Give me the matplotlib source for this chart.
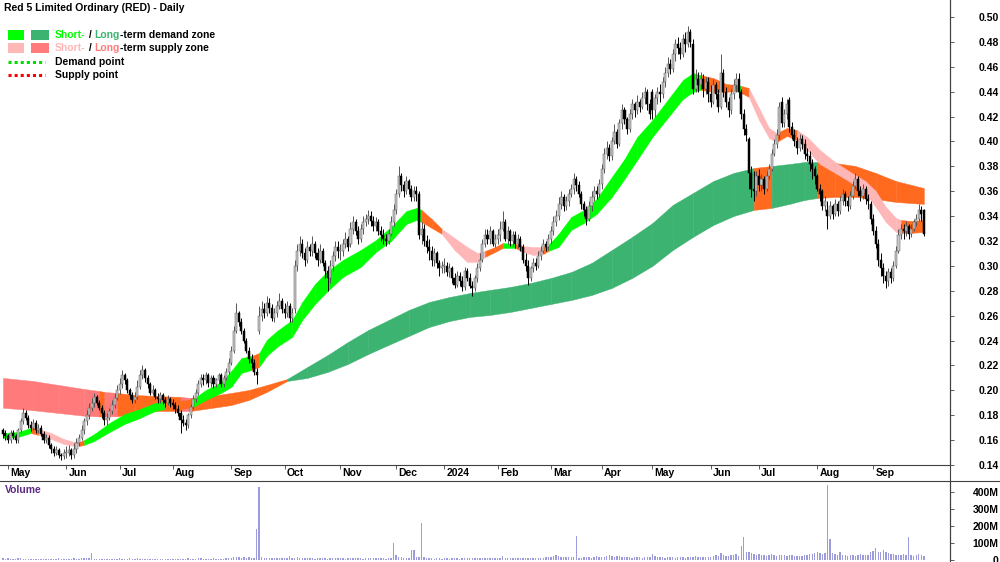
import numpy as np
import pandas as pd
import matplotlib
matplotlib.use("Agg")
import matplotlib.pyplot as plt
from matplotlib.lines import Line2D
from matplotlib.patches import Rectangle
from matplotlib.transforms import blended_transform_factory

plt.rcParams['font.family'] = ['Liberation Sans', 'DejaVu Sans']

# ---------------- data (prices in thousandths of a dollar) ----------------
asx_holidays = ['2023-06-12', '2023-12-25', '2023-12-26', '2024-01-01', '2024-01-26',
                '2024-03-29', '2024-04-01', '2024-04-25', '2024-06-10']
first_day, last_day = '2023-04-27', '2024-09-30'

closes = [165, 163,
    160,166,163,160,168,175,182,178,172,170,174,168,170,165,160,162,156,153,150,152,148,147,150,
    150,152,148,153,158,162,168,175,180,186,190,195,190,186,182,176,178,183,188,194,200,
    205,212,208,200,196,192,195,203,212,216,210,205,198,200,195,193,196,192,190,193,190,
    188,185,182,176,174,172,180,187,193,198,205,210,208,212,206,210,205,208,212,205,210,215,222,
    232,248,262,255,248,240,232,225,222,215,212,260,265,262,270,266,258,262,268,272,265,
    262,268,258,262,300,312,318,310,305,315,312,318,310,305,312,302,296,290,300,308,315,312,
    312,318,322,315,330,335,328,322,330,335,338,340,336,332,335,328,325,322,320,326,335,345,
    358,372,365,360,368,362,355,360,358,325,330,320,315,312,305,310,302,298,300,
    300,295,298,290,285,292,288,283,296,290,284,282,290,298,305,318,325,322,328,318,322,
    325,330,335,322,328,320,325,318,322,315,305,300,290,298,302,300,308,312,318,315,322,
    328,335,340,350,355,348,352,358,362,370,365,358,350,345,338,348,355,360,358,366,
    378,390,395,388,400,408,398,415,425,418,410,422,430,425,432,428,435,440,430,422,
    425,435,440,438,448,455,462,458,470,478,475,470,482,478,488,480,442,450,445,450,442,448,438,
    432,445,438,428,455,440,432,425,438,445,450,440,422,410,405,375,362,360,372,
    365,370,362,372,378,390,398,405,428,415,422,430,412,405,400,395,402,398,390,388,382,378,372,
    362,358,348,352,340,348,342,350,344,352,358,352,348,356,364,370,360,356,362,354,352,338,
    328,318,305,298,292,288,295,290,300,312,325,330,328,332,326,330,335,338,345,342,326]

opens = [168, 166,
    163,160,166,163,160,168,175,182,178,172,170,174,168,170,165,160,162,156,153,150,152,148,147,
    150,150,152,148,153,158,162,168,175,180,186,190,195,190,186,182,176,178,183,188,194,
    200,205,212,208,200,196,192,195,203,212,216,210,205,198,200,195,193,196,192,190,193,
    190,188,185,182,176,174,172,180,187,193,198,205,210,208,212,206,210,205,208,212,205,210,215,
    222,232,248,262,255,248,240,232,225,222,215,248,260,265,262,270,266,258,262,268,272,
    265,262,268,258,265,300,312,318,310,305,315,312,318,310,305,312,302,296,290,300,308,315,
    312,312,318,322,318,330,335,328,322,330,335,338,340,336,332,335,328,325,322,320,326,335,
    345,358,372,365,360,368,362,355,360,358,325,330,320,315,312,305,310,302,298,
    300,300,295,298,290,285,292,288,283,296,290,284,282,290,298,305,318,325,322,328,318,
    322,325,330,335,322,328,320,325,318,322,315,305,300,290,298,302,300,308,312,318,315,
    322,328,335,340,350,355,348,352,358,362,370,365,358,350,345,338,348,355,360,358,
    366,378,390,395,388,400,408,398,415,425,418,410,422,430,425,432,428,435,440,430,
    440,425,435,440,438,448,455,462,458,470,478,475,470,482,478,488,478,442,450,445,450,442,448,
    438,432,445,438,428,455,440,432,425,438,445,450,440,422,410,402,375,362,360,
    372,365,370,362,372,378,390,398,405,432,415,422,433,412,405,400,395,402,398,390,388,382,378,
    372,362,360,348,345,340,348,342,350,344,352,358,352,348,356,364,370,360,356,362,354,350,
    338,328,318,305,298,292,288,295,290,300,312,325,330,328,332,326,330,335,338,345,345]

highs = [170, 168,
    165,168,168,165,170,178,186,184,180,175,177,176,173,172,167,165,164,158,155,155,154,150,153,
    155,156,154,158,162,165,172,178,184,190,194,198,196,192,188,184,182,186,192,198,204,
    210,216,214,210,202,199,199,208,216,220,218,212,207,204,202,198,199,198,195,196,195,
    193,191,188,184,180,177,182,189,196,201,208,213,213,215,214,212,212,210,214,214,212,218,226,
    236,252,270,264,258,250,242,235,229,225,218,268,272,270,276,274,269,266,272,278,274,
    270,272,270,266,305,318,324,322,314,320,318,324,320,314,318,314,305,300,305,312,320,320,
    318,322,327,324,335,340,338,332,334,340,342,345,344,340,339,338,332,330,326,330,340,350,
    362,380,375,368,372,370,365,364,364,360,335,334,325,322,316,314,312,305,304,
    306,303,302,300,294,296,295,292,299,298,294,288,293,302,310,322,330,330,332,330,326,
    330,336,344,338,332,330,328,328,326,324,318,310,305,300,306,306,312,316,322,320,326,
    332,340,345,355,360,358,356,362,366,375,372,368,360,352,348,352,360,364,364,370,
    382,395,400,398,404,414,410,418,430,428,420,426,434,432,437,434,440,444,442,434,
    442,438,444,446,452,460,468,466,474,482,484,480,486,488,493,490,482,458,456,456,454,452,452,
    445,450,448,442,470,458,444,436,442,450,455,455,442,426,414,404,380,376,376,
    378,374,372,376,382,394,402,410,432,436,426,434,436,416,410,404,406,405,402,395,392,386,380,
    374,366,362,356,352,352,350,354,352,356,362,360,356,360,368,375,372,364,366,364,358,352,
    342,332,322,310,302,296,298,298,304,316,330,334,334,336,334,334,338,342,350,348,346]

lows = [162, 160,
    158,158,161,158,158,166,173,176,170,167,168,166,166,163,158,158,154,150,147,148,146,144,145,
    146,147,145,146,150,155,160,165,172,177,183,187,188,184,178,172,172,176,181,186,192,
    197,202,205,198,193,190,190,193,201,209,207,202,196,196,193,190,190,189,187,188,187,
    185,182,179,166,171,168,170,178,185,191,196,203,204,205,203,203,202,203,205,203,203,208,213,
    220,230,246,252,245,238,230,222,218,212,205,245,256,258,260,262,256,255,259,265,262,
    258,259,255,255,262,296,308,306,300,302,308,308,306,300,302,300,290,280,286,296,304,306,
    305,308,314,312,315,326,325,318,319,326,332,334,332,328,328,325,320,318,316,318,324,332,
    342,355,360,355,358,358,352,352,352,322,318,316,310,305,300,300,298,292,294,
    294,292,291,286,282,283,284,280,281,288,282,276,280,287,296,303,315,318,318,316,315,
    318,320,328,320,318,316,316,314,314,312,302,296,285,288,295,297,298,305,310,312,313,
    318,325,332,337,346,344,345,348,355,358,360,355,346,340,333,336,344,352,354,355,
    362,375,386,384,385,398,395,396,410,414,406,408,418,420,422,424,426,430,425,418,
    418,420,430,432,435,444,452,454,456,465,470,466,468,472,476,476,438,440,440,442,436,438,432,
    428,430,434,424,426,436,428,420,422,434,440,435,418,405,400,362,355,352,356,
    360,360,358,360,370,376,388,395,402,412,412,418,408,402,396,390,392,394,386,384,376,370,366,
    360,352,345,344,330,338,338,340,340,342,349,348,344,346,354,362,356,352,354,350,346,334,
    325,314,300,292,286,282,284,286,288,298,310,322,322,324,322,323,328,332,336,336,324]

volumes_m = [14, 8,
    12,8,6,7,10,9,8,6,7,5,6,7,8,6,5,7,6,8,7,6,9,7,6,
    8,7,6,9,7,8,10,9,12,11,40,8,7,5,6,8,7,6,5,7,8,
    9,7,6,8,10,7,6,9,8,7,6,5,7,6,8,7,6,5,6,7,6,
    5,6,7,8,6,5,9,7,8,6,10,9,7,8,6,7,9,8,7,6,8,10,12,
    14,16,18,15,13,16,14,15,13,14,185,430,16,14,12,10,9,11,12,10,9,
    10,9,24,11,12,20,13,11,10,9,12,10,8,9,10,11,9,8,10,11,9,10,
    10,9,8,11,10,9,12,10,9,8,10,11,9,10,12,11,10,9,8,10,12,100,
    30,18,16,14,12,14,60,60,15,20,218,15,12,10,9,8,11,9,8,
    10,9,8,10,12,9,8,10,11,9,12,10,9,11,10,12,14,12,11,10,12,
    12,14,24,12,11,13,12,10,12,11,13,12,14,11,12,10,13,12,14,18,16,
    20,25,30,22,18,20,16,15,18,20,140,14,12,15,16,18,14,20,22,18,
    16,18,22,28,26,20,25,24,18,16,15,18,14,16,15,17,14,16,18,15,
    35,22,18,16,15,14,16,18,15,14,16,18,15,14,16,20,18,22,16,15,18,20,16,
    18,22,30,25,40,28,22,25,30,28,35,25,80,135,45,50,42,38,30,
    35,30,28,25,30,35,28,25,30,32,28,26,30,28,25,24,22,26,28,30,35,38,40,
    45,40,38,40,440,125,40,35,30,45,32,28,25,30,28,26,32,35,30,28,30,45,
    55,70,50,48,60,45,40,35,38,30,32,28,35,30,135,30,25,32,35,28,22]

# zone bands: trading-day number (0 = 1 May 2023), upper / lower edge (thousandths), zone state
st_day = [-2, 4, 9, 12, 17, 22, 26, 28, 30, 34, 40, 46, 52, 58, 62, 68, 73, 78, 84, 88, 92, 96, 99,
          102, 106, 112, 116, 121, 126, 132, 139, 145, 151, 157, 161, 163, 167, 171, 176, 181, 185,
          188, 192, 195, 200, 203, 207, 211, 213, 217, 222, 227, 232, 238, 243, 248, 254, 260, 266,
          270, 273, 278, 283, 287, 289, 292, 296, 300, 303, 307, 311, 315, 320, 326, 332, 338, 342,
          346, 350, 352, 356, 361]
st_upper = [165.7, 166.5, 169.8, 169.0, 165.7, 160.9, 158.5, 158.5, 160.1, 164.9, 173.8, 181.0, 185.0,
            189.9, 191.5, 191.5, 193.1, 200.3, 206.7, 215.6, 226.0, 227.6, 230.0, 240.5, 247.7, 256.5,
            271.0, 285.5, 295.9, 304.8, 312.8, 320.8, 331.3, 344.1, 346.6, 345.0, 337.7, 329.7, 322.4,
            315.2, 310.4, 312.0, 315.2, 318.4, 317.6, 316.0, 315.2, 315.2, 316.8, 325.7, 339.3, 345.0,
            353.8, 371.5, 385.9, 403.6, 417.3, 433.3, 449.4, 455.0, 453.4, 451.0, 446.2, 445.4, 444.6,
            443.0, 426.9, 410.8, 406.8, 410.8, 409.2, 403.6, 393.2, 383.5, 375.5, 368.2, 360.2, 347.4,
            338.5, 336.9, 336.1, 336.9]
st_lower = [161.7, 162.5, 165.7, 164.1, 160.9, 156.9, 155.3, 155.3, 156.1, 159.3, 166.5, 173.0, 177.8,
            183.4, 185.0, 185.0, 186.6, 192.3, 197.9, 202.7, 214.0, 216.4, 218.8, 227.6, 234.9, 242.9,
            256.5, 269.4, 279.9, 291.1, 299.1, 311.2, 320.0, 333.7, 336.9, 335.3, 330.5, 325.7, 312.8,
            303.2, 303.2, 307.2, 311.2, 314.4, 314.4, 311.2, 308.8, 309.6, 312.0, 315.2, 328.9, 334.5,
            341.7, 355.4, 369.9, 385.1, 403.6, 418.9, 434.1, 439.8, 441.4, 439.8, 439.8, 440.6, 439.0,
            435.8, 417.3, 402.8, 399.6, 404.4, 401.2, 393.2, 381.9, 374.7, 367.4, 358.6, 347.4, 335.3,
            327.3, 326.5, 326.5, 327.3]
st_state = "".join(["GG", "O", "PPPP", "O", "GGGGGG", "OO", "GGGGG", "O", "GGGGGGGGGGGGG", "OO",
                    "PPPP", "OO", "G", "O", "PP", "O", "GGGGGGGGGGGG", "OOO", "G", "O", "PPP", "OO",
                    "PPPPPPPPP", "OOO"])

lt_day = [-2, 10, 20, 30, 36, 38, 43, 50, 58, 68, 72, 80, 88, 95, 102, 110, 118, 126, 134, 142, 150,
          158, 166, 174, 182, 190, 198, 206, 214, 222, 230, 238, 246, 254, 262, 270, 278, 286, 294,
          301, 308, 314, 319, 326, 334, 342, 350, 361]
lt_upper = [210.0, 207.5, 204.3, 201.1, 199.5, 198.7, 197.9, 196.3, 195.5, 194.7, 193.9, 195.5, 197.9,
            200.3, 204.3, 209.1, 218.8, 228.4, 238.9, 248.5, 256.5, 264.6, 271.0, 275.0, 278.2, 280.7,
            283.1, 286.3, 290.3, 295.1, 302.4, 312.8, 323.3, 334.5, 349.0, 358.6, 368.2, 374.7, 378.7,
            380.3, 381.9, 383.5, 383.5, 382.7, 380.3, 374.7, 368.2, 362.6]
lt_lower = [186.0, 184.0, 181.8, 179.6, 179.0, 179.0, 179.2, 181.0, 183.4, 183.4, 183.4, 185.8, 188.2,
            192.3, 198.7, 207.5, 210.0, 214.8, 221.2, 229.2, 236.5, 243.7, 250.9, 255.7, 259.0, 260.6,
            263.0, 266.2, 269.4, 272.6, 276.6, 282.3, 290.3, 300.0, 312.8, 323.3, 332.9, 340.1, 345.0,
            346.6, 349.8, 353.0, 354.6, 355.4, 355.4, 353.8, 351.4, 349.8]
lt_state = "".join(["SSSS", "O", "S", "OOO", "S", "OOOOO", "D" * 23, "O", "DDD", "OOOOOO"])

price_ticks = [0.14, 0.16, 0.18, 0.20, 0.22, 0.24, 0.26, 0.28, 0.30, 0.32, 0.34, 0.36, 0.38,
               0.40, 0.42, 0.44, 0.46, 0.48, 0.50]
volume_ticks = [0, 100, 200, 300, 400]

# ---------------- styling ----------------
ST_COL = {'G': '#00FF00', 'P': '#FFB6B6', 'O': '#FF6A1F'}
LT_COL = {'D': '#3CB371', 'S': '#FF7B7B', 'O': '#FF6A1F'}
FS = 7.5
W, H = 1000, 562

dates = pd.bdate_range(first_day, last_day, freq='C', holidays=asx_holidays)
n = min(len(dates), len(closes), len(opens), len(highs), len(lows), len(volumes_m))
dates = dates[:n]
xs = np.arange(n) - 2  # day number relative to 1 May 2023
o = np.array(opens[:n]) / 1000.0
c = np.array(closes[:n]) / 1000.0
h = np.maximum.reduce([np.array(highs[:n]) / 1000.0, o, c])
l = np.minimum.reduce([np.array(lows[:n]) / 1000.0, o, c])
v = np.array(volumes_m[:n]) * 1e6

fig = plt.figure(figsize=(W / 100, H / 100), dpi=100)
ax_left, ax_right = 0.0, 950 / W
price_bottom_px, vol_top_px, vol_bottom_px = 465, 481, 560
ax = fig.add_axes([ax_left, 1 - price_bottom_px / H, ax_right, price_bottom_px / H])
axv = fig.add_axes([ax_left, 1 - vol_bottom_px / H, ax_right, (vol_bottom_px - vol_top_px) / H])

XMIN, XMAX = -3.15, 371.3
for a in (ax, axv):
    a.set_xlim(XMIN, XMAX)
    a.set_facecolor('white')
    for s in ('top', 'left'):
        a.spines[s].set_visible(False)
    a.spines['right'].set_color('#404040')
    a.spines['right'].set_linewidth(0.8)
axv.spines['bottom'].set_visible(False)
ax.spines['bottom'].set_color('#404040')
ax.spines['bottom'].set_linewidth(0.8)

ax.set_ylim(0.14, 0.5137)


def draw_band(day, up, lo, state, cols, z):
    for k in range(min(len(day), len(up), len(lo)) - 1):
        col = cols[state[k]] if k < len(state) else cols[state[-1]]
        ax.fill_between([day[k], day[k + 1]], [lo[k] / 1000, lo[k + 1] / 1000],
                        [up[k] / 1000, up[k + 1] / 1000], facecolor=col, edgecolor=col,
                        linewidth=0.3, zorder=z)


draw_band(lt_day, lt_upper, lt_lower, lt_state, LT_COL, 1)
draw_band(st_day, st_upper, st_lower, st_state, ST_COL, 2)

# candles
up = c >= o
wick_col = np.where(up, '#555555', '#000000')
ax.vlines(xs, l, h, colors=wick_col, linewidth=0.7, zorder=3)
body_lo = np.minimum(o, c)
body_h = np.maximum(np.abs(c - o), 0.0007)
ax.bar(xs, body_h, bottom=body_lo, width=0.8, color=np.where(up, '#C8C8C8', '#000000'),
       edgecolor=np.where(up, '#5a5a5a', '#000000'), linewidth=0.35, zorder=4)

# price axis
ax.yaxis.set_ticks_position('right')
ax.set_yticks(price_ticks)
ax.set_yticklabels([f"{t:.2f}" for t in price_ticks])
ax.tick_params(axis='y', direction='out', length=3, width=0.6, colors='#404040', pad=32,
               labelsize=FS, labelcolor='black')
for lab in ax.get_yticklabels():
    lab.set_ha('right')
    lab.set_fontweight('bold')

# month ticks
month_pos, month_lab = [], []
for i in range(1, n):
    if dates[i].month != dates[i - 1].month:
        month_pos.append(xs[i])
        month_lab.append(str(dates[i].year) if dates[i].month == 1 else dates[i].strftime('%b'))
ax.set_xticks(month_pos)
ax.set_xticklabels([])
ax.tick_params(axis='x', direction='out', length=3, width=0.6, colors='#404040')
trans = blended_transform_factory(ax.transData, fig.transFigure)
for p, lab in zip(month_pos, month_lab):
    ax.text(p + 0.9, 1 - 473.5 / H, lab, transform=trans, ha='left', va='center', fontsize=FS,
            fontweight='bold', color='black', clip_on=False)

# volume
axv.bar(xs, v, width=0.55, color='#9C9CDD', linewidth=0, zorder=2)
axv.set_ylim(0, 465e6)
axv.yaxis.set_ticks_position('right')
axv.set_yticks([t * 1e6 for t in volume_ticks])
axv.set_yticklabels(['0' if t == 0 else f"{t}M" for t in volume_ticks])
axv.tick_params(axis='y', direction='out', length=3, width=0.6, colors='#404040', pad=32,
                labelsize=FS, labelcolor='black')
for lab in axv.get_yticklabels():
    lab.set_ha('right')
    lab.set_fontweight('bold')
axv.set_xticks([])
fig.text(5 / W, 1 - 490 / H, 'Volume', color='#5B2A86', fontsize=FS, fontweight='bold',
         ha='left', va='center')

# separator lines
fig.add_artist(Line2D([0, 1], [1 - vol_top_px / H] * 2, transform=fig.transFigure,
                      color='#404040', linewidth=0.8))
fig.add_artist(Line2D([ax_right, ax_right], [0, 1], transform=fig.transFigure,
                      color='#404040', linewidth=0.8))

# title and legend
fig.text(4 / W, 1 - 8 / H, 'Red 5 Limited Ordinary (RED) - Daily', fontsize=FS,
         fontweight='bold', ha='left', va='center', color='black')

renderer = fig.canvas.get_renderer()


def color_text(x_px, y_px, parts):
    x = x_px
    for s, col in parts:
        t = fig.text(x / W, 1 - y_px / H, s, color=col, fontsize=FS, fontweight='bold',
                     ha='left', va='center')
        x += t.get_window_extent(renderer).width


def patch(x0, y0, w, hgt, col):
    fig.add_artist(Rectangle((x0 / W, 1 - (y0 + hgt) / H), w / W, hgt / H,
                             transform=fig.transFigure, facecolor=col, edgecolor='none'))


patch(8, 30, 16, 10, ST_COL['G'])
patch(31, 30, 18, 10, LT_COL['D'])
patch(8, 43, 16, 10, ST_COL['P'])
patch(31, 43, 18, 10, LT_COL['S'])
color_text(55, 35, [('Short-', ST_COL['G']), (' / ', 'black'), ('Long', LT_COL['D']),
                    ('-term demand zone', 'black')])
color_text(55, 48, [('Short-', ST_COL['P']), (' / ', 'black'), ('Long', LT_COL['S']),
                    ('-term supply zone', 'black')])
fig.add_artist(Line2D([8 / W, 45 / W], [1 - 62 / H] * 2, transform=fig.transFigure,
                      color='#00E000', linewidth=2.2, linestyle=(0, (1, 1))))
fig.add_artist(Line2D([8 / W, 45 / W], [1 - 75 / H] * 2, transform=fig.transFigure,
                      color='#FF0000', linewidth=2.2, linestyle=(0, (1, 1))))
color_text(55, 62, [('Demand point', 'black')])
color_text(55, 75, [('Supply point', 'black')])

fig.savefig('out.png', dpi=100, facecolor='white')
